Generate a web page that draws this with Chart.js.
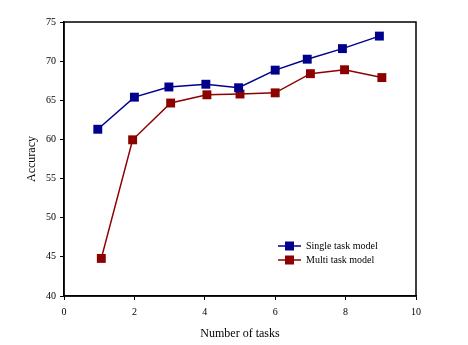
<!DOCTYPE html>
<html>
<head>
<meta charset="utf-8">
<script src="https://cdn.jsdelivr.net/npm/chart.js@4/dist/chart.umd.min.js"></script>
<style>
html,body{margin:0;padding:0;background:#fff;}
#wrap{width:468px;height:345px;}
</style>
</head>
<body>
<div id="wrap"><canvas id="c" width="468" height="345"></canvas></div>
<script>
const singleX = [0.96, 2.0, 2.98, 4.03, 4.96, 6.0, 6.91, 7.91, 8.96];
const singleY = [61.3, 65.4, 66.7, 67.05, 66.6, 68.85, 70.25, 71.6, 73.2];
const multiX = [1.06, 1.95, 3.03, 4.06, 5.0, 6.0, 7.0, 7.97, 9.03];
const multiY = [44.8, 59.95, 64.65, 65.7, 65.8, 65.95, 68.4, 68.9, 67.9];
const seriesNames = ['Single task model', 'Multi task model'];
const seriesColors = ['#00008c', '#8c0000'];
const xTitle = 'Number of tasks';
const yTitle = 'Accuracy';

const toPts = (xs, ys) => xs.map((x, i) => ({x: x, y: ys[i]}));

const frame = {
  id: 'frame',
  afterDatasetsDraw(chart) {
    const {ctx, chartArea: a} = chart;
    ctx.save();
    ctx.strokeStyle = '#000';
    ctx.lineWidth = 1.5;
    ctx.strokeRect(a.left, a.top, a.right - a.left, a.bottom - a.top);
    // legend
    const lx = 278, tx = 306, rows = [246, 260];
    ctx.font = '10px "Liberation Serif", serif';
    ctx.textBaseline = 'middle';
    ctx.textAlign = 'left';
    rows.forEach((y, i) => {
      ctx.strokeStyle = seriesColors[i];
      ctx.lineWidth = 1.5;
      ctx.beginPath(); ctx.moveTo(lx, y); ctx.lineTo(lx + 23, y); ctx.stroke();
      ctx.fillStyle = seriesColors[i];
      ctx.fillRect(lx + 7, y - 4.5, 9, 9);
      ctx.fillStyle = '#000';
      ctx.fillText(seriesNames[i], tx, y);
    });
    ctx.restore();
  }
};

new Chart(document.getElementById('c'), {
  type: 'line',
  data: {
    datasets: [
      {label: seriesNames[0], data: toPts(singleX, singleY), borderColor: seriesColors[0], backgroundColor: seriesColors[0], borderWidth: 1.5, pointStyle: 'rect', pointRadius: 6.3, pointBorderWidth: 0},
      {label: seriesNames[1], data: toPts(multiX, multiY), borderColor: seriesColors[1], backgroundColor: seriesColors[1], borderWidth: 1.5, pointStyle: 'rect', pointRadius: 6.3, pointBorderWidth: 0}
    ]
  },
  options: {
    responsive: false,
    animation: false,
    devicePixelRatio: 1,
    layout: {padding: {left: 0, right: 52, top: 22, bottom: 0}},
    plugins: {legend: {display: false}, tooltip: {enabled: false}},
    scales: {
      x: {
        type: 'linear', min: 0, max: 10,
        afterFit(s) { s.height = 49; },
        ticks: {stepSize: 2, color: '#000', font: {family: '"Liberation Serif", serif', size: 10}, padding: 6, maxRotation: 0},
        grid: {drawOnChartArea: false, drawTicks: true, tickLength: 4, color: '#000', lineWidth: 1},
        border: {color: '#000', width: 1.5},
        title: {display: true, text: xTitle, color: '#000', font: {family: '"Liberation Serif", serif', size: 12}, padding: {top: 0, bottom: 4}}
      },
      y: {
        min: 40, max: 75,
        afterFit(s) { s.width = 64; },
        ticks: {stepSize: 5, color: '#000', font: {family: '"Liberation Serif", serif', size: 10}, padding: 4},
        grid: {drawOnChartArea: false, drawTicks: true, tickLength: 4, color: '#000', lineWidth: 1},
        border: {color: '#000', width: 1.5},
        title: {display: true, text: yTitle, color: '#000', font: {family: '"Liberation Serif", serif', size: 12}, padding: {top: 25, bottom: 0}}
      }
    }
  },
  plugins: [frame]
});
</script>
</body>
</html>
